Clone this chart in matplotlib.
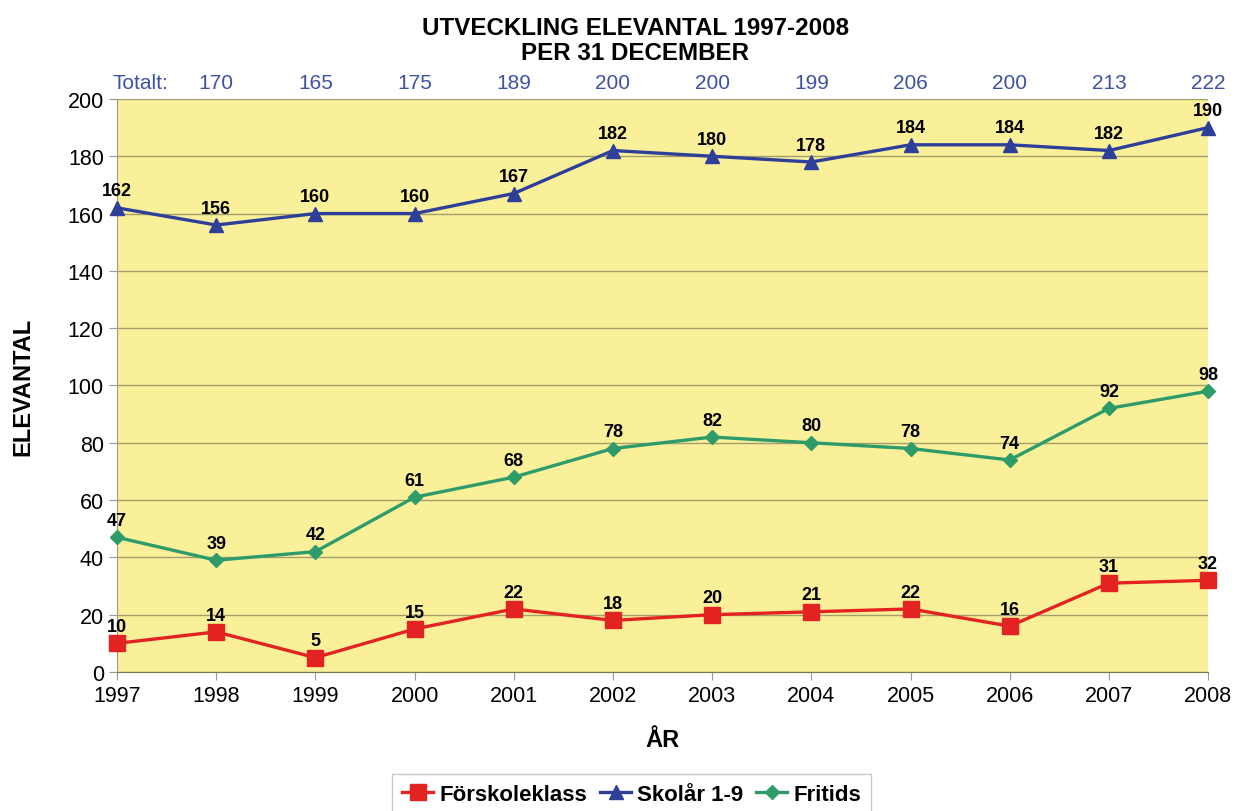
import matplotlib.pyplot as plt

plt.rcParams['font.family'] = ['Liberation Sans', 'DejaVu Sans']

# ─── DATA ─────────────────────────────────────────────────────────────────────
years = [1997, 1998, 1999, 2000, 2001, 2002, 2003, 2004, 2005, 2006, 2007, 2008]
forskoleklass = [10, 14, 5, 15, 22, 18, 20, 21, 22, 16, 31, 32]
skolar = [162, 156, 160, 160, 167, 182, 180, 178, 184, 184, 182, 190]
fritids = [47, 39, 42, 61, 68, 78, 82, 80, 78, 74, 92, 98]
totals = [170, 165, 175, 189, 200, 200, 199, 206, 200, 213, 222]
y_ticks = [0, 20, 40, 60, 80, 100, 120, 140, 160, 180, 200]

RED, BLUE, GREEN = '#E32222', '#2E3F9A', '#2E9B6A'
TOTAL_COLOR = '#3F51A3'
NARROW = ['Liberation Sans Narrow', 'Liberation Sans']

fig = plt.figure(figsize=(12.36, 8.12), dpi=100)
ax = fig.add_axes([0.0947, 0.1712, 0.8827, 0.7057])
ax.set_facecolor('#FAF09A')

series = [
    ('Förskoleklass', forskoleklass, RED, 's', 11),
    ('Skolår 1-9', skolar, BLUE, '^', 10),
    ('Fritids', fritids, GREEN, 'D', 7),
]
for name, vals, col, mk, ms in series:
    ax.plot(years, vals, color=col, lw=2.4, marker=mk, ms=ms,
            mec=col, mfc=col, label=name, zorder=3, clip_on=False)
    for x, v in zip(years, vals):
        ax.annotate(str(v), (x, v), xytext=(0, 6), textcoords='offset points',
                    ha='center', va='bottom', fontsize=13, fontweight='bold',
                    zorder=4)

ax.set_xlim(1997, 2008)
ax.set_ylim(0, 200)
ax.set_xticks(years)
ax.set_yticks(y_ticks)
ax.tick_params(axis='both', labelsize=15.5, length=6, color='#999999',
               direction='out')
ax.grid(axis='y', color='#A39E6A', lw=1.0, zorder=0)
ax.set_axisbelow(True)
for s in ['top', 'right']:
    ax.spines[s].set_visible(False)
ax.spines['left'].set_color('#999999')
ax.spines['bottom'].set_color('#7A7650')

ax.set_xlabel('ÅR', fontsize=17, fontweight='bold', labelpad=16)
ax.set_ylabel('ELEVANTAL', fontsize=17, fontweight='bold', labelpad=24)

# totals row above the plot
ax.text(1996.95, 1.012, 'Totalt:', transform=ax.get_xaxis_transform(),
        ha='left', va='bottom', fontsize=15, color=TOTAL_COLOR, family=NARROW)
for x, t in zip(years[1:], totals):
    ax.text(x, 1.012, str(t), transform=ax.get_xaxis_transform(),
            ha='center', va='bottom', fontsize=15, color=TOTAL_COLOR,
            family=NARROW)

fig.text(0.514, 0.950, 'UTVECKLING ELEVANTAL 1997-2008\nPER 31 DECEMBER',
         ha='center', va='center', fontsize=17.4, fontweight='bold',
         linespacing=1.1)

leg = fig.legend(loc='upper center', bbox_to_anchor=(0.511, 0.0456), ncol=3,
                 frameon=True, fancybox=False, edgecolor='#BBBBBB',
                 handlelength=1.4, handletextpad=0.25, columnspacing=0.6,
                 borderpad=0.45, borderaxespad=0.0,
                 prop={'weight': 'bold', 'size': 16})
leg.get_frame().set_linewidth(1.0)

fig.savefig('out.png', dpi=100)
